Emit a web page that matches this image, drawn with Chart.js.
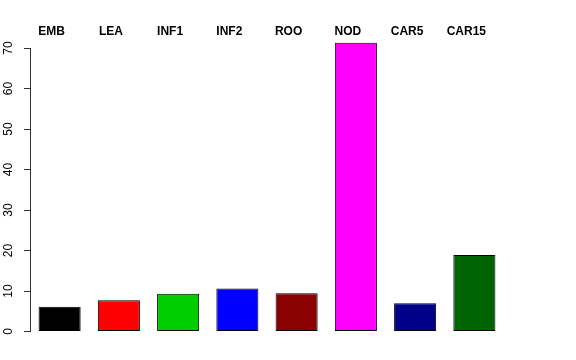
<!DOCTYPE html>
<html>
<head>
<meta charset="utf-8">
<script src="https://cdn.jsdelivr.net/npm/chart.js@4/dist/chart.umd.min.js"></script>
<style>
  html, body { margin: 0; padding: 0; background: #ffffff; }
  #wrap { width: 576px; height: 360px; }
</style>
</head>
<body>
<div id="wrap"><canvas id="c" width="576" height="360"></canvas></div>
<script>
const categories = ["EMB", "LEA", "INF1", "INF2", "ROO", "NOD", "CAR5", "CAR15"];
const values = [6.1, 7.7, 9.35, 10.6, 9.45, 71.3, 6.98, 18.9];
const barColors = ["#000000", "#FF0000", "#00CD00", "#0000FF", "#8B0000", "#FF00FF", "#00008B", "#006400"];
const yTicks = [0, 10, 20, 30, 40, 50, 60, 70];

const ctx = document.getElementById('c').getContext('2d');
new Chart(ctx, {
  type: 'bar',
  data: {
    labels: categories,
    datasets: [{
      data: values,
      backgroundColor: barColors,
      borderColor: '#000000',
      borderWidth: 1,
      borderSkipped: false,
      barPercentage: 0.71,
      categoryPercentage: 1.0,
      clip: false
    }]
  },
  options: {
    responsive: false,
    animation: false,
    devicePixelRatio: 1,
    layout: { padding: { left: 0, top: 0, right: 72, bottom: 28.5 } },
    plugins: {
      legend: { display: false },
      tooltip: { enabled: false },
      title: { display: false }
    },
    scales: {
      x: {
        position: 'top',
        offset: true,
        grid: { display: false, drawTicks: false },
        border: { display: false },
        ticks: {
          color: '#000000',
          font: { family: 'Liberation Sans, Arial, sans-serif', size: 12, weight: 'bold' },
          padding: 9,
          labelOffset: -8,
          maxRotation: 0,
          minRotation: 0,
          autoSkip: false
        },
        afterFit: function(scale) { scale.height = 48; }
      },
      y: {
        min: 0,
        max: 70,
        afterBuildTicks: function(scale) { scale.ticks = yTicks.map(v => ({ value: v })); },
        grid: { drawOnChartArea: false, drawTicks: true, tickLength: 6, color: '#333333' },
        border: { display: true, color: '#333333', width: 1 },
        ticks: {
          color: '#000000',
          font: { family: 'Liberation Sans, Arial, sans-serif', size: 12 },
          padding: 9,
          crossAlign: 'center',
          minRotation: 90,
          maxRotation: 90
        },
        afterFit: function(scale) { scale.width = 30; }
      }
    }
  }
});
</script>
</body>
</html>
